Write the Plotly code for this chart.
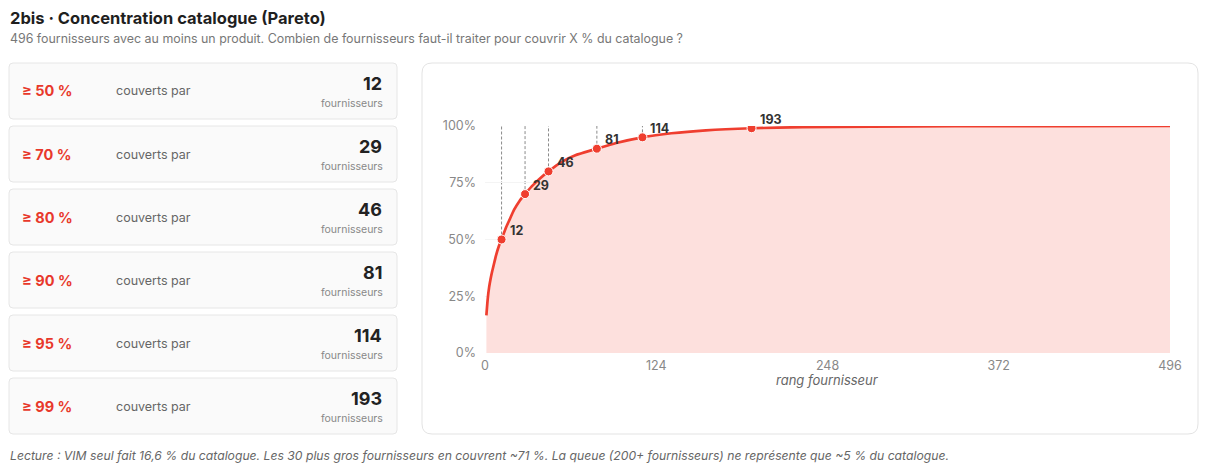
import plotly.graph_objects as go

# ---- data ----
ranks = [1, 2, 3, 4, 5, 6, 8, 10, 12, 15, 18, 21, 25, 29, 34, 40, 46, 55, 65, 81,
         95, 114, 135, 160, 193, 230, 280, 340, 420, 496]
cum_pct = [16.6, 24, 29, 32.5, 35.5, 38, 43, 47, 50, 55, 59, 63, 67, 70, 73.5, 77, 80,
           84, 87, 90, 92.5, 95, 96.8, 98.1, 99, 99.5, 99.75, 99.9, 99.97, 100]
thresholds = [50, 70, 80, 90, 95, 99]
counts = [12, 29, 46, 81, 114, 193]
x_ticks = [0, 124, 248, 372, 496]
y_ticks = [0, 25, 50, 75, 100]
y_tick_labels = ["0%", "25%", "50%", "75%", "100%"]

TITLE = "2bis · Concentration catalogue (Pareto)"
SUBTITLE = "496 fournisseurs avec au moins un produit. Combien de fournisseurs faut-il traiter pour couvrir X % du catalogue ?"
FOOT = "Lecture : VIM seul fait 16,6 % du catalogue. Les 30 plus gros fournisseurs en couvrent ~71 %. La queue (200+ fournisseurs) ne représente que ~5 % du catalogue."

RED = "#ef3e2f"
FILL = "#fde0dd"
FONT = "Inter, 'Noto Sans', sans-serif"

OFF = 8  # page body margin
W, H = 1212 - OFF, 467 - OFF
PL, PR, PT, PB = 485, 1170, 126, 353  # plot area in page px


def px(x):
    return (x - PL) / (PR - PL)


def py(y):
    return (PB - y) / (PB - PT)


def rrect(x0, y0, x1, y1, r, fill, line):
    rx = r / (PR - PL)
    ry = r / (PB - PT)
    X0, X1, Y0, Y1 = px(x0), px(x1), py(y0), py(y1)  # Y0 top, Y1 bottom
    path = (f"M {X0+rx},{Y0} L {X1-rx},{Y0} Q {X1},{Y0} {X1},{Y0-ry} "
            f"L {X1},{Y1+ry} Q {X1},{Y1} {X1-rx},{Y1} L {X0+rx},{Y1} "
            f"Q {X0},{Y1} {X0},{Y1+ry} L {X0},{Y0-ry} Q {X0},{Y0} {X0+rx},{Y0} Z")
    return dict(type="path", xref="paper", yref="paper", path=path,
                fillcolor=fill, line=dict(color=line, width=1), layer="below")


fig = go.Figure()

fig.add_trace(go.Scatter(
    x=ranks, y=cum_pct, mode="lines", line=dict(color=RED, width=2.7, shape="spline", smoothing=0.6),
    fill="tozeroy", fillcolor=FILL, hoverinfo="skip", showlegend=False))

fig.add_trace(go.Scatter(
    x=counts, y=thresholds, mode="markers",
    marker=dict(color=RED, size=9, line=dict(color="white", width=1)),
    showlegend=False))

shapes = []
annotations = []

# panels
shapes.append(rrect(422, 63, 1198, 434, 10, "white", "#e3e3e3"))
for i in range(len(thresholds)):
    top = 63 + 63 * i
    shapes.append(rrect(9, top, 397, top + 56, 4, "#fafafa", "#e6e6e6"))
    cy = top + 28
    annotations.append(dict(x=px(20), y=py(cy), xref="paper", yref="paper",
                            text=f"<b>≥ {thresholds[i]} %</b>", showarrow=False,
                            xanchor="left", yanchor="middle",
                            font=dict(family=FONT, size=14.5, color="#e8382b")))
    annotations.append(dict(x=px(114), y=py(cy), xref="paper", yref="paper",
                            text="couverts par", showarrow=False,
                            xanchor="left", yanchor="middle",
                            font=dict(family=FONT, size=12.5, color="#666666")))
    annotations.append(dict(x=px(384), y=py(top + 20), xref="paper", yref="paper",
                            text=f"<b>{counts[i]}</b>", showarrow=False,
                            xanchor="right", yanchor="middle",
                            font=dict(family=FONT, size=18, color="#222222")))
    annotations.append(dict(x=px(385), y=py(top + 40), xref="paper", yref="paper",
                            text="fournisseurs", showarrow=False,
                            xanchor="right", yanchor="middle",
                            font=dict(family=FONT, size=10.5, color="#888888")))

# dashed guides and point labels
for c, t in zip(counts, thresholds):
    shapes.append(dict(type="line", xref="x", yref="y", x0=c, x1=c, y0=t, y1=101,
                       line=dict(color="#8a8a8a", width=1, dash="3px,2px"), layer="below"))
    annotations.append(dict(x=c, y=t, xref="x", yref="y", text=f"<b>{c}</b>",
                            showarrow=False, xanchor="left", yanchor="middle",
                            xshift=6, yshift=9,
                            font=dict(family=FONT, size=12.5, color="#333333")))

# titles
annotations.append(dict(x=px(8), y=py(18), xref="paper", yref="paper", text=f"<b>{TITLE}</b>",
                        showarrow=False, xanchor="left", yanchor="middle",
                        font=dict(family=FONT, size=16.5, color="#1f1f1f")))
annotations.append(dict(x=px(8), y=py(39), xref="paper", yref="paper", text=SUBTITLE,
                        showarrow=False, xanchor="left", yanchor="middle",
                        font=dict(family=FONT, size=12.4, color="#777777")))
annotations.append(dict(x=px(8), y=py(455), xref="paper", yref="paper", text=f"<i>{FOOT}</i>",
                        showarrow=False, xanchor="left", yanchor="middle",
                        font=dict(family=FONT, size=12.2, color="#666666")))
annotations.append(dict(x=px(827), y=py(380), xref="paper", yref="paper",
                        text="<i>rang fournisseur</i>", showarrow=False,
                        xanchor="center", yanchor="middle",
                        font=dict(family=FONT, size=13, color="#666666")))

fig.update_layout(
    width=W, height=H,
    margin=dict(l=PL - OFF, r=W - (PR - OFF), t=PT - OFF, b=H - (PB - OFF), pad=0),
    paper_bgcolor="white", plot_bgcolor="rgba(0,0,0,0)",
    shapes=shapes, annotations=annotations,
    font=dict(family=FONT),
    xaxis=dict(range=[0, 496], tickvals=x_ticks, showgrid=False, zeroline=False,
               showline=False, ticks="", ticklabelstandoff=3,
               tickfont=dict(family=FONT, size=12.5, color="#888888")),
    yaxis=dict(range=[0, 100], tickvals=y_ticks, ticktext=y_tick_labels,
               showgrid=True, gridcolor="#f4f4f4", zeroline=False, showline=False,
               ticks="", ticklabelstandoff=8,
               tickfont=dict(family=FONT, size=12.5, color="#888888")),
)

fig.write_html("out.html")
